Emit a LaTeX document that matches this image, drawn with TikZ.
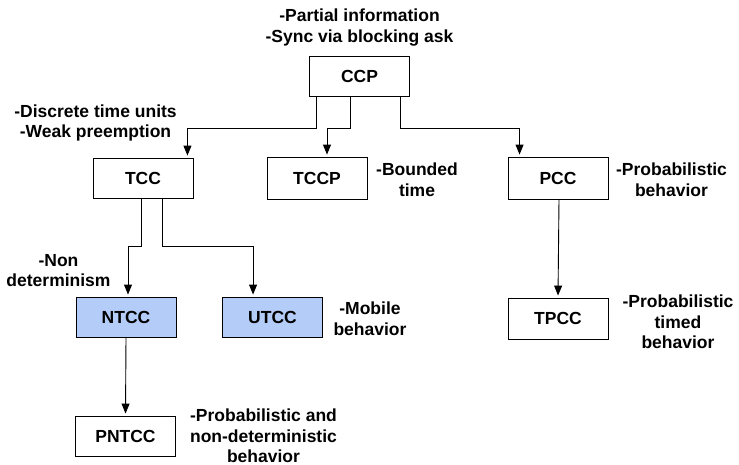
\documentclass[tikz,border=0pt]{standalone}
\usepackage{fontspec}
\setmainfont{Liberation Sans}
\usetikzlibrary{arrows.meta}
\definecolor{boxblue}{RGB}{180,205,248}
\tikzset{
  box/.style={draw=black, line width=0.9pt, minimum width=100pt, minimum height=40pt, inner sep=0pt, font=\fontsize{17.5}{20.5}\selectfont\bfseries},
  bluebox/.style={box, fill=boxblue},
  lbl/.style={align=center, inner sep=0pt, font=\fontsize{17.5}{20.5}\selectfont\bfseries},
  conn/.style={draw=black, line width=0.9pt, -{Triangle[length=10pt,width=8pt]}, shorten >=2pt},
  plain/.style={draw=black, line width=0.9pt}
}
\begin{document}
\begin{tikzpicture}[x=1pt,y=-1pt]
\useasboundingbox (0,0) rectangle (739,464);
% boxes
\node[box] (CCP) at (359.5,76.5) {CCP};
\node[box] (TCC) at (143,178) {TCC};
\node[box, minimum height=42pt] (TCCP) at (317,178) {TCCP};
\node[box, minimum height=42pt] (PCC) at (558,178) {PCC};
\node[bluebox] (NTCC) at (126,317) {NTCC};
\node[bluebox] (UTCC) at (272.5,317) {UTCC};
\node[box] (PNTCC) at (125.5,436) {PNTCC};
\node[box, minimum height=41pt] (TPCC) at (558,318.5) {TPCC};
% labels
\node[lbl] (l0) at (359.5,27.5) {-Partial information\\-Sync via blocking ask};
\node[lbl] (l1) at (95.5,123) {-Discrete time units\\-Weak preemption};
\node[lbl] (l2) at (417,179.5) {-Bounded\\time};
\node[lbl] (l3) at (671.5,179.5) {-Probabilistic\\behavior};
\node[lbl] (l4) at (58.5,270.5) {-Non\\determinism};
\node[lbl] (l5) at (370,318.5) {-Mobile\\behavior};
\node[lbl] (l6) at (678,322) {-Probabilistic\\timed\\behavior};
\node[lbl] (l7) at (263.5,436) {-Probabilistic and\\non-deterministic\\behavior};
% connectors
\draw[conn] ([xshift=7pt]CCP.south west) -- ++(0,31) -| ([xshift=-6pt]TCC.north east);
\draw[conn] ([xshift=41pt]CCP.south west) -- ++(0,31) -| ([xshift=10pt]TCCP.north);
\draw[conn] ([xshift=-10pt]CCP.south east) -- ++(0,31) -| ([xshift=12pt]PCC.north west);
\draw[conn] ([xshift=1pt]PCC.south) -- (TPCC.north);
\draw[conn] ([xshift=-2pt]TCC.south) -- ++(0,48) -| ([xshift=2pt]NTCC.north);
\draw[conn] ([xshift=19pt]TCC.south) -- ++(0,48) -| ([xshift=31pt]UTCC.north west);
\draw[conn] (NTCC.south) -- (PNTCC.north);
\end{tikzpicture}
\end{document}
